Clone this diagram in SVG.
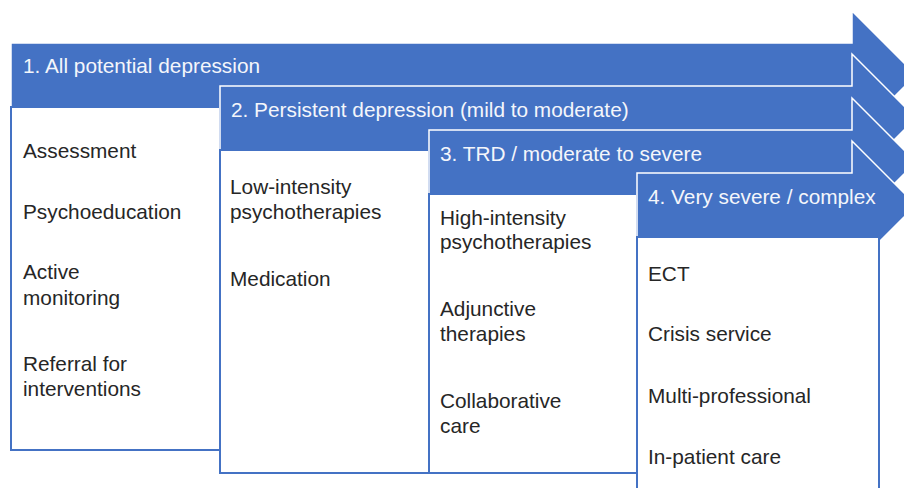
<svg xmlns="http://www.w3.org/2000/svg" width="904" height="488" viewBox="0 0 904 488">
<style>
.arrow{fill:#4472C4;stroke:#FFFFFF;stroke-width:1.5;stroke-linejoin:miter}
.body{fill:#FFFFFF;stroke:#4472C4;stroke-width:2}
.hd{font-family:"Liberation Sans",Arial,sans-serif;font-size:20.8px;fill:#F4F6FB}
.tx{font-family:"Liberation Sans",Arial,sans-serif;font-size:20.8px;fill:#262626}
</style>
<rect width="904" height="488" fill="#FFFFFF"/>
<g id="step1">
<path class="arrow" d="M11,43 H852 V11 L916,75 L852,139 V107 H11 Z"/>
<rect class="body" x="11" y="107" width="209" height="343"/>
<text class="hd" x="23" y="73">1. All potential depression</text>
<text class="tx" x="23" y="158">Assessment</text>
<text class="tx" x="23" y="219">Psychoeducation</text>
<text class="tx" x="23" y="279">Active</text>
<text class="tx" x="23" y="305">monitoring</text>
<text class="tx" x="23" y="371">Referral for</text>
<text class="tx" x="23" y="396">interventions</text>
</g>
<g id="step2">
<path class="arrow" d="M220,86 H852 V54 L916,118 L852,182 V150 H220 Z"/>
<rect class="body" x="220" y="150" width="209" height="323"/>
<text class="hd" x="231" y="117">2. Persistent depression (mild to moderate)</text>
<text class="tx" x="230" y="194">Low-intensity</text>
<text class="tx" x="230" y="219">psychotherapies</text>
<text class="tx" x="230" y="286">Medication</text>
</g>
<g id="step3">
<path class="arrow" d="M429,130 H852 V98 L916,162 L852,226 V194 H429 Z"/>
<rect class="body" x="429" y="194" width="208" height="279"/>
<text class="hd" x="440" y="161">3. TRD / moderate to severe</text>
<text class="tx" x="440" y="225">High-intensity</text>
<text class="tx" x="440" y="249">psychotherapies</text>
<text class="tx" x="440" y="316">Adjunctive</text>
<text class="tx" x="440" y="341">therapies</text>
<text class="tx" x="440" y="408">Collaborative</text>
<text class="tx" x="440" y="433">care</text>
</g>
<g id="step4">
<path class="arrow" d="M637,173 H852 V141 L916,205 L852,269 V237 H637 Z"/>
<rect class="body" x="637" y="237" width="242" height="270"/>
<text class="hd" x="648" y="204">4. Very severe / complex</text>
<text class="tx" x="648" y="281">ECT</text>
<text class="tx" x="648" y="341">Crisis service</text>
<text class="tx" x="648" y="403">Multi-professional</text>
<text class="tx" x="648" y="464">In-patient care</text>
</g>
<g id="connectors"/>
</svg>
